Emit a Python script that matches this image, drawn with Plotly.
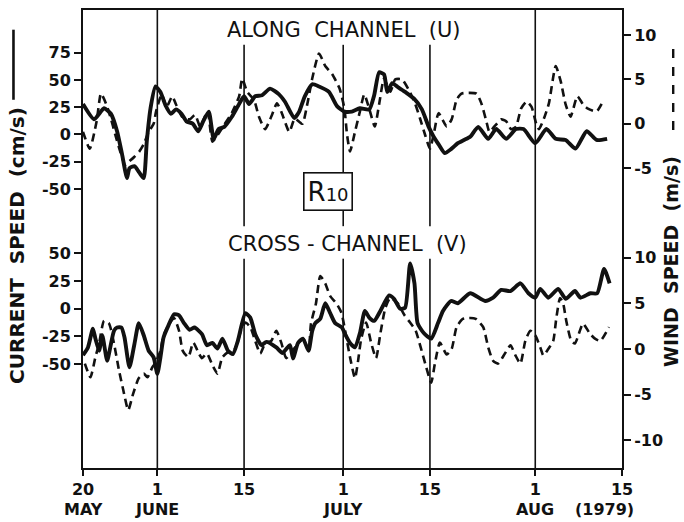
import pandas as pd
import plotly.graph_objects as go

START = pd.Timestamp("1979-05-20")

# ---- data (day offset from 20 May 1979) ----
# Along-channel (U): current speed, cm/s (solid)
u_cur_day = [0, 1.8, 3.4, 4.5, 5.5, 6.3, 7.1, 7.5, 8.3, 9.1, 9.8, 10.3, 10.9, 11.7, 12.5,
             13.3, 14.2, 15.0, 15.9, 16.7, 17.7, 18.6, 19.4, 20.3, 21.1, 21.9, 22.8, 24.0, 25.2, 26.0,
             26.8, 27.8, 28.9, 30.2, 31.6, 32.6, 34.1, 34.9, 35.8, 37.0, 38.1, 39.7, 41.0, 42.2, 43.4,
             44.7, 46.2, 47.0, 47.8, 48.6, 49.1, 49.9, 50.7, 52.0, 53.4, 54.7, 55.8, 56.6, 57.4, 58.4,
             59.5, 60.5, 61.5, 62.5, 63.8, 65.4, 66.7, 68.3, 69.9, 71.1, 73.0, 74.8, 76.3, 77.9, 79.5,
             81.3, 82.9, 84.6]
u_cur = [28, 14, 24, 19, 3, -18, -40, -31, -29, -35, -40, -6, 24, 44, 39,
         27, 19, 23, 19, 12, 10, 3, 12, 21, -4, 5, 7, 16, 28, 35,
         28, 35, 36, 42, 37, 30, 15, 21, 35, 46, 44, 39, 26, 21, 21,
         24, 23, 36, 57, 55, 39, 47, 44, 39, 33, 23, 7, -2, -9, -17,
         -13, -8, -5, -2, 7, -4, 5, -4, 5, 5, -8, 5, -4, -5, -13,
         3, -5, -4]

# Along-channel (U): wind speed, m/s (dashed)
u_wind_day = [0, 1.1, 2.2, 2.9, 3.7, 4.5, 5.2, 6.0, 6.8, 7.5, 8.3, 9.1, 9.8, 10.6, 11.4,
              11.8, 12.7, 13.5, 14.4, 15.0, 16.0, 17.2, 18.1, 18.9, 20.1, 20.9, 21.8, 22.8, 24.0, 25.2,
              25.7, 26.5, 27.6, 28.4, 29.4, 30.5, 31.3, 32.1, 33.3, 34.2, 35.4, 36.2, 37.0, 38.1, 39.1,
              40.2, 41.4, 42.2, 42.6, 43.1, 43.9, 44.7, 45.4, 46.2, 47.1, 47.8, 48.6, 49.6, 50.4, 51.5,
              52.6, 53.6, 54.4, 55.2, 56.0, 56.6, 57.4, 58.7, 59.5, 60.3, 61.1, 63.5, 64.3, 65.1, 65.6,
              66.4, 67.5, 68.3, 69.1, 69.9, 70.7, 71.6, 72.4, 73.2, 73.6, 74.4, 75.2, 76.3, 77.1, 77.9,
              78.7, 79.8, 80.7, 81.5, 82.9, 83.9]
u_wind = [-0.9, -2.8, 0.3, 3.4, 2.3, 0.6, -1.2, -3.1, -4.6, -4.2, -3.7, -3.1, -2.3, -0.9, 0.0,
          1.4, 3.3, 1.9, 3.1, 2.2, 0.8, 0.5, 1.0, -0.3, 1.4, -2.0, -1.2, -0.1, 1.2, 3.1,
          5.1, 3.6, 2.7, 0.8, -0.6, 1.0, 2.3, 1.2, -0.9, 0.6, 0.0, 2.2, 5.1, 7.9, 6.5,
          5.6, 4.0, 1.7, -1.1, -3.1, -0.9, 1.4, 3.3, 1.7, -0.3, 2.2, 5.1, 3.6, 5.0, 5.0,
          3.8, 2.3, 0.6, -1.2, -2.8, -1.2, 1.2, -0.3, 0.5, 2.7, 3.4, 3.4, 2.3, 0.3, -0.9,
          -0.3, 0.5, 0.3, -0.6, -0.3, 1.7, 2.5, 1.9, -0.1, -0.6, 0.6, 2.3, 6.5, 4.8, 2.2,
          0.8, 3.1, 2.2, 1.7, 1.4, 2.5]

# Cross-channel (V): current speed, cm/s (solid)
v_cur_day = [0, 0.8, 1.6, 2.0, 2.6, 3.1, 3.9, 4.4, 5.0, 5.5, 6.2, 6.7, 7.5, 8.3, 9.0,
             9.8, 10.6, 11.4, 12.0, 12.5, 13.0, 13.8, 14.7, 15.5, 16.3, 17.2, 18.0, 19.2, 20.0, 20.9,
             21.7, 22.5, 23.4, 24.2, 25.0, 26.2, 27.0, 27.8, 28.8, 29.6, 31.2, 32.2, 33.4, 33.9, 34.7,
             35.5, 36.4, 37.0, 37.5, 38.3, 39.1, 39.9, 40.7, 41.8, 42.3, 43.1, 43.9, 44.7, 45.5, 46.2,
             47.0, 48.0, 49.4, 50.2, 51.2, 52.0, 52.8, 53.5, 54.0, 55.0, 56.2, 57.3, 58.1, 59.4, 60.5,
             62.5, 64.9, 66.2, 67.5, 69.0, 70.6, 71.9, 73.0, 73.8, 75.1, 76.7, 77.9, 79.4, 80.3, 81.9,
             83.0, 84.1, 85.0]
v_cur = [-42, -35, -18, -27, -38, -24, -47, -35, -20, -17, -17, -26, -53, -32, -13,
         -24, -38, -44, -59, -44, -26, -15, -5, -6, -13, -19, -17, -23, -33, -31,
         -36, -27, -38, -41, -29, -4, -8, -23, -33, -30, -35, -40, -33, -45, -31,
         -27, -38, -20, -13, -9, 5, -4, -13, -17, -23, -31, -35, -22, -2, -8,
         -11, -2, 12, 9, 0, 1, 41, 23, -13, -22, -27, -13, -2, 7, 5,
         14, 7, 10, 17, 16, 23, 14, 10, 18, 10, 18, 9, 16, 10, 14,
         14, 36, 23]

# Cross-channel (V): wind speed, m/s (dashed)
v_wind_day = [0.3, 1.2, 2.0, 2.6, 3.4, 4.2, 5.0, 5.8, 6.5, 7.3, 8.1, 9.0, 9.8, 10.4, 11.2,
              11.7, 12.5, 13.0, 13.8, 14.7, 15.5, 16.1, 17.0, 17.8, 18.7, 19.2, 20.0, 20.9, 21.7, 22.5,
              23.7, 24.5, 25.5, 26.2, 27.0, 27.8, 28.6, 29.4, 30.4, 31.2, 32.0, 32.8, 33.6, 34.8, 35.6,
              36.4, 36.8, 37.6, 38.3, 39.1, 39.9, 40.9, 41.7, 42.5, 43.1, 43.9, 44.4, 44.9, 45.7, 46.5,
              47.3, 48.0, 48.8, 49.6, 50.8, 51.9, 52.8, 53.7, 54.5, 55.4, 56.2, 56.8, 57.6, 58.7, 59.5,
              60.3, 61.3, 62.5, 63.4, 64.6, 65.4, 66.2, 67.0, 68.1, 69.0, 69.8, 70.6, 71.4, 72.2, 73.0,
              73.8, 74.3, 75.1, 75.9, 76.4, 77.0, 77.5, 78.0, 78.8, 79.4, 80.2, 80.7, 81.8, 82.7, 83.5,
              84.9]
v_wind = [-1.6, -3.1, -0.9, 0.6, 3.1, 2.8, 0.6, -2.3, -4.5, -6.7, -4.9, -3.2, -2.7, -3.1, -2.0,
          -1.5, -0.2, 1.5, 2.6, 3.4, 2.0, -0.2, -0.9, 0.7, -0.5, -1.0, -0.5, -1.8, -2.7, -0.9,
          -0.2, 0.0, 2.0, 2.9, 2.4, 0.9, -0.5, 0.6, 0.9, 2.0, 0.7, -1.0, -0.4, 0.7, 1.1,
          -0.2, 2.8, 5.0, 8.0, 7.2, 5.8, 5.0, 4.0, 1.3, -0.9, -3.2, -1.3, 1.1, 2.9, 0.7,
          -1.0, 1.7, 4.5, 5.6, 5.0, 3.7, 2.9, 2.0, 0.2, -2.0, -3.7, -1.6, 0.7, -0.6, 0.0,
          2.4, 3.3, 3.4, 3.3, 2.4, 0.2, -1.3, -1.6, -0.5, 0.4, -0.7, -1.6, 0.9, 2.0, 1.5,
          0.2, -0.7, 0.0, 0.9, 3.4, 5.6, 5.0, 3.1, 0.9, 0.6, 2.0, 2.8, 1.7, 1.1, 0.9,
          2.4]

x_tick_dates = ["1979-05-20", "1979-06-01", "1979-06-15", "1979-07-01",
                "1979-07-15", "1979-08-01", "1979-08-15"]
x_tick_text = ["20", "1", "15", "1", "15", "1", "15"]
month_dates = ["1979-05-20", "1979-06-01", "1979-07-01", "1979-08-01"]
month_names = ["MAY", "JUNE", "JULY", "AUG"]

u_cur_ticks = [-50, -25, 0, 25, 50, 75]
v_cur_ticks = [-50, -25, 0, 25, 50]
u_wind_ticks = [-5, 0, 5, 10]
v_wind_ticks = [-10, -5, 0, 5, 10]


def dates(days):
    return START + pd.to_timedelta(days, unit="D")


def lbl(vals):
    return [str(v) for v in vals]


BLACK = "#111111"
SOLID = dict(color=BLACK, width=3.9)
DASHED = dict(color=BLACK, width=2.6, dash="8px,5px")
SM = 0.55

fig = go.Figure()
fig.add_trace(go.Scatter(x=dates(u_cur_day), y=u_cur, mode="lines", yaxis="y",
                         line=dict(**SOLID, shape="spline", smoothing=SM), showlegend=False))
fig.add_trace(go.Scatter(x=dates(u_wind_day), y=u_wind, mode="lines", yaxis="y2",
                         line=dict(**DASHED, shape="spline", smoothing=SM), showlegend=False))
fig.add_trace(go.Scatter(x=dates(v_cur_day), y=v_cur, mode="lines", yaxis="y3",
                         line=dict(**SOLID, shape="spline", smoothing=SM), showlegend=False))
fig.add_trace(go.Scatter(x=dates(v_wind_day), y=v_wind, mode="lines", yaxis="y4",
                         line=dict(**DASHED, shape="spline", smoothing=SM), showlegend=False))

TICKFONT = dict(family="DejaVu Sans", size=16, color=BLACK, weight="bold")
common_y = dict(showgrid=False, zeroline=False, showline=True, linecolor=BLACK, linewidth=2,
                ticks="outside", ticklen=7, tickwidth=2, tickcolor=BLACK, tickfont=TICKFONT,
                domain=[0, 1], fixedrange=True)

fig.update_layout(
    width=684, height=522,
    margin=dict(l=83, r=62, t=8, b=54),
    paper_bgcolor="white", plot_bgcolor="white",
    xaxis=dict(range=["1979-05-20", "1979-08-15"], tickvals=x_tick_dates, ticktext=x_tick_text,
               showgrid=False, zeroline=False, showline=True, mirror=True, linecolor=BLACK,
               linewidth=2, ticks="outside", ticklen=6, tickwidth=2, tickcolor=BLACK,
               tickfont=TICKFONT),
    yaxis=dict(range=[-305.7, 114.1], tickvals=u_cur_ticks, ticktext=lbl(u_cur_ticks),
               side="left", **common_y),
    yaxis2=dict(range=[-38.7, 12.8], tickvals=u_wind_ticks, ticktext=lbl(u_wind_ticks),
                side="right", overlaying="y", **common_y),
    yaxis3=dict(range=[-144.1, 270.3], tickvals=v_cur_ticks, ticktext=lbl(v_cur_ticks),
                side="left", overlaying="y", **common_y),
    yaxis4=dict(range=[-13.06, 37.2], tickvals=v_wind_ticks, ticktext=lbl(v_wind_ticks),
                side="right", overlaying="y", **common_y),
)

# vertical reference lines (month / mid-month), with gaps for the panel labels
def vseg(date, y0, y1):
    fig.add_shape(type="line", xref="x", yref="paper", x0=date, x1=date, y0=y0, y1=y1,
                  line=dict(color=BLACK, width=1.6), layer="below")

vseg("1979-06-01", 0, 1)
vseg("1979-08-01", 0, 1)
for d in ["1979-06-15", "1979-07-15"]:
    vseg(d, 0, 0.457)
    vseg(d, 0.528, 0.924)
vseg("1979-07-01", 0, 0.457)
vseg("1979-07-01", 0.528, 0.567)
vseg("1979-07-01", 0.643, 0.924)

# legend keys next to the axis titles
fig.add_shape(type="line", xref="paper", yref="paper", x0=-0.129, x1=-0.129, y0=0.957, y1=0.804,
              line=dict(color=BLACK, width=2.6))
fig.add_shape(type="line", xref="paper", yref="paper", x0=1.095, x1=1.095, y0=0.915, y1=0.730,
              line=dict(color=BLACK, width=2.4, dash="dash"))

NB = "\u00a0"
TITLEFONT = dict(family="DejaVu Sans", size=21, color=BLACK)
AXTFONT = dict(family="DejaVu Sans", size=20, color=BLACK, weight="bold")
C = dict(xref="paper", yref="paper", showarrow=False, xanchor="center", yanchor="middle")
fig.add_annotation(text=f"ALONG{NB}{NB}CHANNEL{NB}{NB}(U)", x=0.484, y=0.957, font=TITLEFONT, **C)
fig.add_annotation(text=f"CROSS{NB}-{NB}CHANNEL{NB}{NB}(V)", x=0.490, y=0.489, font=TITLEFONT, **C)
fig.add_annotation(text="R<span style='font-size:18px'>10</span>", x=0.4545, y=0.604,
                   font=dict(family="DejaVu Sans", size=26, color=BLACK),
                   bordercolor=BLACK, borderwidth=1.6, borderpad=3, bgcolor="white", **C)
fig.add_annotation(text=f"CURRENT{NB}{NB}SPEED{NB}{NB}(cm/s)", x=-0.1225, y=0.487,
                   textangle=-90, font=AXTFONT, **C)
fig.add_annotation(text=f"WIND{NB}{NB}SPEED{NB}{NB}(m/s)", x=1.091, y=0.45,
                   textangle=-90, font=dict(family="DejaVu Sans", size=19, color=BLACK,
                                            weight="bold"), **C)
for md, mn in zip(month_dates, month_names):
    fig.add_annotation(text=mn, x=md, xref="x", y=-0.0913, yref="paper", showarrow=False,
                       xanchor="center", yanchor="middle", font=TICKFONT)
fig.add_annotation(text="(1979)", x=0.968, y=-0.0913, font=TICKFONT, **C)

fig.write_html("out.html", post_script="document.body.style.margin='0px';",
               config={"displayModeBar": False})
